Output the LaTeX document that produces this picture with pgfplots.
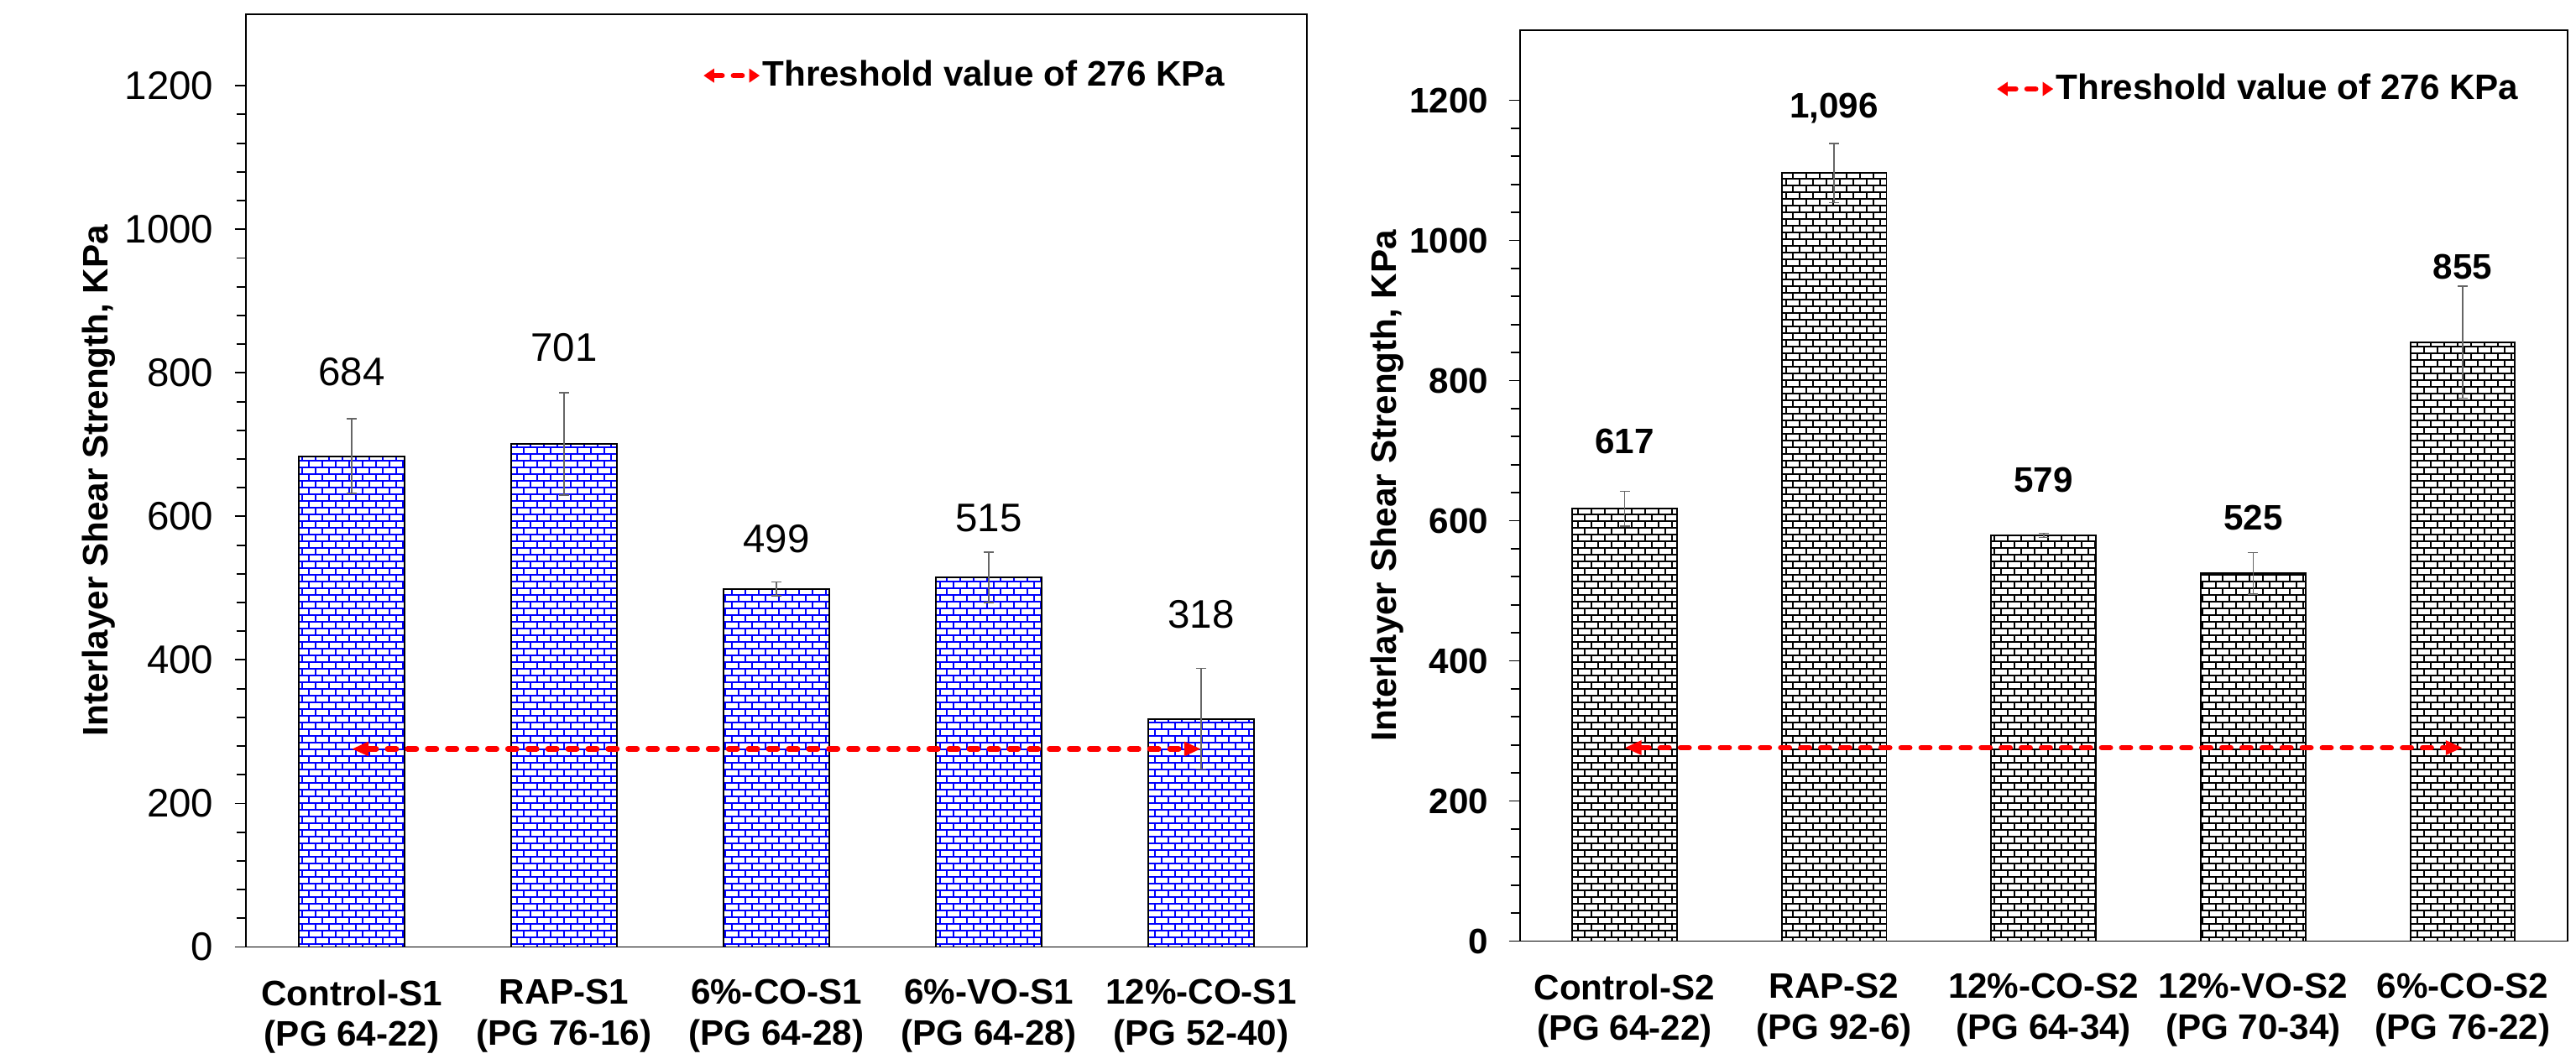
\documentclass[border=0pt]{standalone}
\usepackage{fontspec}
\setmainfont{Liberation Sans}
\usepackage{pgfplots}
\pgfplotsset{compat=1.18}
\usetikzlibrary{patterns,arrows.meta}

\pgfdeclarepatternformonly{bricksx}{\pgfpoint{-0.6pt}{-0.6pt}}{\pgfpoint{5.2pt}{5.2pt}}{\pgfpoint{4.552pt}{4.552pt}}{%
  \pgfsetlinewidth{0.55pt}%
  \pgfpathmoveto{\pgfpoint{-0.6pt}{0pt}}\pgfpathlineto{\pgfpoint{5.2pt}{0pt}}%
  \pgfpathmoveto{\pgfpoint{-0.6pt}{2.276pt}}\pgfpathlineto{\pgfpoint{5.2pt}{2.276pt}}%
  \pgfpathmoveto{\pgfpoint{0pt}{0pt}}\pgfpathlineto{\pgfpoint{0pt}{2.276pt}}%
  \pgfpathmoveto{\pgfpoint{2.276pt}{2.276pt}}\pgfpathlineto{\pgfpoint{2.276pt}{4.552pt}}%
  \pgfusepath{stroke}%
}

\pgfplotsset{
  mybase/.style={
    scale only axis,
    xmin=-0.5, xmax=4.5, ymin=0, ymax=1300,
    xtick={0,...,4},
    ytick={0,200,...,1200},
    minor y tick num=4,
    tick align=outside,
    ytick pos=left,
    xtick style={draw=none},
    major tick length=0.13cm, minor tick length=0.11cm,
    axis line style={line width=0.55pt},
    every tick/.style={black, line width=0.55pt},
    /pgf/number format/assume math mode=true,
    /pgf/number format/1000 sep={},
    clip=false,
    xticklabel style={font=\fontsize{12}{13.9}\selectfont\bfseries, align=center, yshift=-0.135cm},
    ylabel={Interlayer Shear Strength, KPa},
    legend style={draw=none, fill=none, inner sep=0pt, outer sep=0pt,
      font=\fontsize{12}{14}\selectfont\bfseries, nodes={inner sep=0pt},
      /tikz/every even column/.append style={column sep=0.09cm}},
    legend cell align=left,
    legend image code/.code={\draw[red, line width=1.9pt, dash pattern=on 2.9pt off 3.9pt, line cap=round, {Triangle[length=3.6pt,width=4.6pt]}-{Triangle[length=3.6pt,width=4.6pt]}] (0cm,0cm) -- (0.67cm,0cm);},
  },
  thresh/.style={red, line width=1.9pt, dash pattern=on 2.9pt off 3.9pt, line cap=round, {Triangle[length=5.7pt,width=4.6pt]}-{Triangle[length=5.7pt,width=4.6pt]}},
  ebars/.style={error bars/.cd, y dir=both, y explicit,
      error bar style={black!60, line width=0.45pt, solid},
      error mark options={rotate=90, mark size=1.7pt, black!60, line width=0.45pt, solid}},
}

\begin{document}
\begin{tikzpicture}
\path[use as bounding box] (0,0) rectangle (30.69cm,-12.61cm);

% ---------------- left panel ----------------
\begin{axis}[mybase,
  at={(2.927cm,-11.285cm)}, anchor=south west,
  width=12.646cm, height=11.118cm,
  xticklabels={{Control-S1\\(PG 64-22)},{RAP-S1\\(PG 76-16)},{6\%-CO-S1\\(PG 64-28)},{6\%-VO-S1\\(PG 64-28)},{12\%-CO-S1\\(PG 52-40)}},
  yticklabel style={font=\fontsize{13.5}{16}\selectfont, xshift=-0.13cm},
  ylabel style={font=\fontsize{12}{14}\selectfont\bfseries, at={(axis description cs:-0.130,0.5)}, anchor=base, inner sep=0pt},
  legend style={at={(axis description cs:0.4287,0.934)}, anchor=west},
]
\addplot[forget plot, ybar, bar width=0.5, bar shift=0pt, draw=black, line width=0.55pt,
  pattern=bricksx, pattern color=blue, ebars]
  coordinates {(0,684) +- (0,52) (1,701) +- (0,71) (2,499) +- (0,9.5) (3,515) +- (0,35) (4,318) +- (0,70)};
\addplot[forget plot, draw=none, nodes near coords, point meta=explicit symbolic,
  every node near coord/.append style={font=\fontsize{13.5}{16}\selectfont, text=black, inner sep=0pt, anchor=south}]
  coordinates {(0,781)[684] (1,815)[701] (2,548)[499] (3,578)[515] (4,443)[318]};
\addplot[thresh] coordinates {(0,276) (4,276)};
\addlegendentry{Threshold value of 276 KPa}
\end{axis}

% ---------------- right panel ----------------
\begin{axis}[mybase,
  at={(18.107cm,-11.215cm)}, anchor=south west,
  width=12.48cm, height=10.855cm,
  xticklabels={{Control-S2\\(PG 64-22)},{RAP-S2\\(PG 92-6)},{12\%-CO-S2\\(PG 64-34)},{12\%-VO-S2\\(PG 70-34)},{6\%-CO-S2\\(PG 76-22)}},
  yticklabel style={font=\fontsize{12}{14}\selectfont\bfseries, xshift=-0.12cm},
  ylabel style={font=\fontsize{12}{14}\selectfont\bfseries, at={(axis description cs:-0.118,0.5)}, anchor=base, inner sep=0pt},
  legend style={at={(axis description cs:0.4529,0.9355)}, anchor=west},
]
\addplot[forget plot, ybar, bar width=0.5, bar shift=0pt, draw=black, line width=0.55pt,
  pattern=bricksx, pattern color=black, ebars]
  coordinates {(0,617) +- (0,25) (1,1096) +- (0,42) (2,579) +- (0,3) (3,525) +- (0,29.5) (4,855) +- (0,80)};
\addplot[forget plot, draw=none, nodes near coords, point meta=explicit symbolic,
  every node near coord/.append style={font=\fontsize{12}{14}\selectfont\bfseries, text=black, inner sep=0pt, anchor=south}]
  coordinates {(0,695)[617] (1,1166)[{1,096}] (2,640)[579] (3,585)[525] (4,944)[855]};
\addplot[thresh] coordinates {(0,276) (4,276)};
\addlegendentry{Threshold value of 276 KPa}
\end{axis}
\end{tikzpicture}
\end{document}
